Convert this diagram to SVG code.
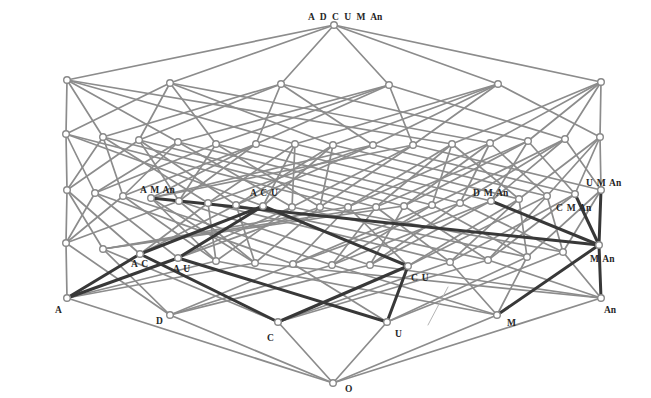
<svg xmlns="http://www.w3.org/2000/svg" width="651" height="398" viewBox="0 0 651 398">
<style>
.e line{stroke:#8c8c8c;stroke-width:1.7;stroke-linecap:round}
.t line{stroke:#383838;stroke-width:3;stroke-linecap:round}
circle{fill:#fff;stroke:#888;stroke-width:1.4}
text{font-family:"Liberation Serif","DejaVu Serif",serif;font-size:9.5px;font-weight:bold;fill:#262626;word-spacing:1.5px}
</style>
<rect width="651" height="398" fill="#fff"/>
<g id="connectors">
<g class="e">
<line x1="333" y1="383" x2="67" y2="298"/><line x1="333" y1="383" x2="170" y2="315"/><line x1="333" y1="383" x2="278" y2="322"/><line x1="333" y1="383" x2="387" y2="322"/><line x1="333" y1="383" x2="497" y2="315"/><line x1="333" y1="383" x2="601" y2="298"/>
<line x1="67" y1="298" x2="66" y2="243"/><line x1="170" y1="315" x2="66" y2="243"/>
<line x1="170" y1="315" x2="103" y2="249"/><line x1="278" y1="322" x2="103" y2="249"/>
<line x1="67" y1="298" x2="216" y2="261"/><line x1="497" y1="315" x2="216" y2="261"/>
<line x1="67" y1="298" x2="255" y2="263"/><line x1="601" y1="298" x2="255" y2="263"/>
<line x1="170" y1="315" x2="293" y2="264"/><line x1="387" y1="322" x2="293" y2="264"/>
<line x1="170" y1="315" x2="332" y2="265"/><line x1="497" y1="315" x2="332" y2="265"/>
<line x1="170" y1="315" x2="370" y2="265"/><line x1="601" y1="298" x2="370" y2="265"/>
<line x1="278" y1="322" x2="450" y2="262"/><line x1="497" y1="315" x2="450" y2="262"/>
<line x1="278" y1="322" x2="488" y2="260"/><line x1="601" y1="298" x2="488" y2="260"/>
<line x1="387" y1="322" x2="527" y2="257"/><line x1="497" y1="315" x2="527" y2="257"/>
<line x1="387" y1="322" x2="563" y2="252"/><line x1="601" y1="298" x2="563" y2="252"/>
<line x1="67" y1="190" x2="66" y2="243"/><line x1="67" y1="190" x2="140" y2="254"/><line x1="67" y1="190" x2="103" y2="249"/>
<line x1="95" y1="193" x2="66" y2="243"/><line x1="95" y1="193" x2="178" y2="258"/><line x1="95" y1="193" x2="293" y2="264"/>
<line x1="123" y1="196" x2="66" y2="243"/><line x1="123" y1="196" x2="216" y2="261"/><line x1="123" y1="196" x2="332" y2="265"/>
<line x1="151" y1="198" x2="216" y2="261"/><line x1="151" y1="198" x2="255" y2="263"/>
<line x1="179" y1="201" x2="66" y2="243"/><line x1="179" y1="201" x2="255" y2="263"/><line x1="179" y1="201" x2="370" y2="265"/>
<line x1="208" y1="203" x2="140" y2="254"/><line x1="208" y1="203" x2="216" y2="261"/><line x1="208" y1="203" x2="450" y2="262"/>
<line x1="236" y1="205" x2="140" y2="254"/><line x1="236" y1="205" x2="255" y2="263"/><line x1="236" y1="205" x2="488" y2="260"/>
<line x1="292" y1="207" x2="178" y2="258"/><line x1="292" y1="207" x2="216" y2="261"/><line x1="292" y1="207" x2="527" y2="257"/>
<line x1="320" y1="207" x2="178" y2="258"/><line x1="320" y1="207" x2="255" y2="263"/><line x1="320" y1="207" x2="563" y2="252"/>
<line x1="348" y1="207" x2="103" y2="249"/><line x1="348" y1="207" x2="293" y2="264"/><line x1="348" y1="207" x2="408" y2="266"/>
<line x1="376" y1="207" x2="103" y2="249"/><line x1="376" y1="207" x2="332" y2="265"/><line x1="376" y1="207" x2="450" y2="262"/>
<line x1="404" y1="206" x2="103" y2="249"/><line x1="404" y1="206" x2="370" y2="265"/><line x1="404" y1="206" x2="488" y2="260"/>
<line x1="432" y1="205" x2="293" y2="264"/><line x1="432" y1="205" x2="332" y2="265"/><line x1="432" y1="205" x2="527" y2="257"/>
<line x1="460" y1="203" x2="293" y2="264"/><line x1="460" y1="203" x2="370" y2="265"/><line x1="460" y1="203" x2="563" y2="252"/>
<line x1="491" y1="201" x2="332" y2="265"/><line x1="491" y1="201" x2="370" y2="265"/>
<line x1="519" y1="199" x2="408" y2="266"/><line x1="519" y1="199" x2="450" y2="262"/><line x1="519" y1="199" x2="527" y2="257"/>
<line x1="547" y1="196" x2="408" y2="266"/><line x1="547" y1="196" x2="488" y2="260"/><line x1="547" y1="196" x2="563" y2="252"/>
<line x1="575" y1="194" x2="450" y2="262"/><line x1="575" y1="194" x2="488" y2="260"/>
<line x1="601" y1="190" x2="527" y2="257"/><line x1="601" y1="190" x2="563" y2="252"/>
<line x1="66" y1="134" x2="67" y2="190"/><line x1="66" y1="134" x2="95" y2="193"/><line x1="66" y1="134" x2="263" y2="206"/><line x1="66" y1="134" x2="348" y2="207"/>
<line x1="103" y1="137" x2="67" y2="190"/><line x1="103" y1="137" x2="123" y2="196"/><line x1="103" y1="137" x2="208" y2="203"/><line x1="103" y1="137" x2="376" y2="207"/>
<line x1="139" y1="140" x2="67" y2="190"/><line x1="139" y1="140" x2="179" y2="201"/><line x1="139" y1="140" x2="236" y2="205"/><line x1="139" y1="140" x2="404" y2="206"/>
<line x1="178" y1="142" x2="95" y2="193"/><line x1="178" y1="142" x2="123" y2="196"/><line x1="178" y1="142" x2="292" y2="207"/><line x1="178" y1="142" x2="432" y2="205"/>
<line x1="216" y1="144" x2="95" y2="193"/><line x1="216" y1="144" x2="179" y2="201"/><line x1="216" y1="144" x2="320" y2="207"/><line x1="216" y1="144" x2="460" y2="203"/>
<line x1="256" y1="144" x2="123" y2="196"/><line x1="256" y1="144" x2="179" y2="201"/><line x1="256" y1="144" x2="151" y2="198"/><line x1="256" y1="144" x2="491" y2="201"/>
<line x1="295" y1="144" x2="263" y2="206"/><line x1="295" y1="144" x2="208" y2="203"/><line x1="295" y1="144" x2="292" y2="207"/><line x1="295" y1="144" x2="519" y2="199"/>
<line x1="333" y1="145" x2="263" y2="206"/><line x1="333" y1="145" x2="236" y2="205"/><line x1="333" y1="145" x2="320" y2="207"/><line x1="333" y1="145" x2="547" y2="196"/>
<line x1="373" y1="145" x2="208" y2="203"/><line x1="373" y1="145" x2="236" y2="205"/><line x1="373" y1="145" x2="151" y2="198"/><line x1="373" y1="145" x2="575" y2="194"/>
<line x1="413" y1="145" x2="292" y2="207"/><line x1="413" y1="145" x2="320" y2="207"/><line x1="413" y1="145" x2="151" y2="198"/><line x1="413" y1="145" x2="601" y2="190"/>
<line x1="452" y1="144" x2="348" y2="207"/><line x1="452" y1="144" x2="376" y2="207"/><line x1="452" y1="144" x2="432" y2="205"/><line x1="452" y1="144" x2="519" y2="199"/>
<line x1="490" y1="143" x2="348" y2="207"/><line x1="490" y1="143" x2="404" y2="206"/><line x1="490" y1="143" x2="460" y2="203"/><line x1="490" y1="143" x2="547" y2="196"/>
<line x1="528" y1="141" x2="376" y2="207"/><line x1="528" y1="141" x2="404" y2="206"/><line x1="528" y1="141" x2="491" y2="201"/><line x1="528" y1="141" x2="575" y2="194"/>
<line x1="565" y1="139" x2="432" y2="205"/><line x1="565" y1="139" x2="460" y2="203"/><line x1="565" y1="139" x2="491" y2="201"/><line x1="565" y1="139" x2="601" y2="190"/>
<line x1="600" y1="137" x2="519" y2="199"/><line x1="600" y1="137" x2="547" y2="196"/><line x1="600" y1="137" x2="575" y2="194"/><line x1="600" y1="137" x2="601" y2="190"/>
<line x1="67" y1="80" x2="66" y2="134"/><line x1="67" y1="80" x2="103" y2="137"/><line x1="67" y1="80" x2="178" y2="142"/><line x1="67" y1="80" x2="295" y2="144"/><line x1="67" y1="80" x2="452" y2="144"/>
<line x1="170" y1="83" x2="66" y2="134"/><line x1="170" y1="83" x2="139" y2="140"/><line x1="170" y1="83" x2="216" y2="144"/><line x1="170" y1="83" x2="333" y2="145"/><line x1="170" y1="83" x2="490" y2="143"/>
<line x1="281" y1="84" x2="103" y2="137"/><line x1="281" y1="84" x2="139" y2="140"/><line x1="281" y1="84" x2="256" y2="144"/><line x1="281" y1="84" x2="373" y2="145"/><line x1="281" y1="84" x2="528" y2="141"/>
<line x1="389" y1="85" x2="178" y2="142"/><line x1="389" y1="85" x2="216" y2="144"/><line x1="389" y1="85" x2="256" y2="144"/><line x1="389" y1="85" x2="413" y2="145"/><line x1="389" y1="85" x2="565" y2="139"/>
<line x1="498" y1="84" x2="295" y2="144"/><line x1="498" y1="84" x2="333" y2="145"/><line x1="498" y1="84" x2="373" y2="145"/><line x1="498" y1="84" x2="413" y2="145"/><line x1="498" y1="84" x2="600" y2="137"/>
<line x1="601" y1="82" x2="452" y2="144"/><line x1="601" y1="82" x2="490" y2="143"/><line x1="601" y1="82" x2="528" y2="141"/><line x1="601" y1="82" x2="565" y2="139"/><line x1="601" y1="82" x2="600" y2="137"/>
<line x1="334" y1="25" x2="67" y2="80"/><line x1="334" y1="25" x2="170" y2="83"/><line x1="334" y1="25" x2="281" y2="84"/><line x1="334" y1="25" x2="389" y2="85"/><line x1="334" y1="25" x2="498" y2="84"/><line x1="334" y1="25" x2="601" y2="82"/>
<line x1="428" y1="325" x2="448" y2="287" style="stroke:#b5b5b5;stroke-width:1"/>
</g>
<g class="t">
<line x1="67" y1="298" x2="140" y2="254"/><line x1="67" y1="298" x2="178" y2="258"/>
<line x1="278" y1="322" x2="140" y2="254"/><line x1="387" y1="322" x2="178" y2="258"/>
<line x1="278" y1="322" x2="408" y2="266"/><line x1="387" y1="322" x2="408" y2="266"/>
<line x1="140" y1="254" x2="263" y2="206"/><line x1="178" y1="258" x2="263" y2="206"/><line x1="408" y1="266" x2="263" y2="206"/>
<line x1="497" y1="315" x2="599" y2="245"/><line x1="601" y1="298" x2="599" y2="245"/>
<line x1="599" y1="245" x2="151" y2="198"/><line x1="599" y1="245" x2="491" y2="201"/><line x1="599" y1="245" x2="575" y2="194"/><line x1="599" y1="245" x2="601" y2="190"/>
</g>
</g>
<g id="O"><circle cx="333" cy="383" r="3.3"/><text x="345" y="392">O</text></g>
<g id="A"><circle cx="67" cy="298" r="3.3"/><text x="55" y="313">A</text></g>
<g id="D"><circle cx="170" cy="315" r="3.3"/><text x="156" y="324">D</text></g>
<g id="C"><circle cx="278" cy="322" r="3.3"/><text x="267" y="341">C</text></g>
<g id="U"><circle cx="387" cy="322" r="3.3"/><text x="395" y="337">U</text></g>
<g id="M"><circle cx="497" cy="315" r="3.3"/><text x="507" y="326">M</text></g>
<g id="An"><circle cx="601" cy="298" r="3.3"/><text x="604" y="313">An</text></g>
<g id="AD"><circle cx="66" cy="243" r="3.3"/></g>
<g id="DC"><circle cx="103" cy="249" r="3.3"/></g>
<g id="AC"><circle cx="140" cy="254" r="3.3"/><text x="131" y="267">A C</text></g>
<g id="AU"><circle cx="178" cy="258" r="3.3"/><text x="173" y="272">A U</text></g>
<g id="AM"><circle cx="216" cy="261" r="3.3"/></g>
<g id="AAn"><circle cx="255" cy="263" r="3.3"/></g>
<g id="DU"><circle cx="293" cy="264" r="3.3"/></g>
<g id="DM"><circle cx="332" cy="265" r="3.3"/></g>
<g id="DAn"><circle cx="370" cy="265" r="3.3"/></g>
<g id="CU"><circle cx="408" cy="266" r="3.3"/><text x="411" y="281">C U</text></g>
<g id="CM"><circle cx="450" cy="262" r="3.3"/></g>
<g id="CAn"><circle cx="488" cy="260" r="3.3"/></g>
<g id="UM"><circle cx="527" cy="257" r="3.3"/></g>
<g id="UAn"><circle cx="563" cy="252" r="3.3"/></g>
<g id="MAn"><circle cx="599" cy="245" r="3.3"/><text x="590" y="262">M An</text></g>
<g id="ADC"><circle cx="67" cy="190" r="3.3"/></g>
<g id="ADU"><circle cx="95" cy="193" r="3.3"/></g>
<g id="ADM"><circle cx="123" cy="196" r="3.3"/></g>
<g id="AMAn"><circle cx="151" cy="198" r="3.3"/><text x="140" y="193">A M An</text></g>
<g id="ADAn"><circle cx="179" cy="201" r="3.3"/></g>
<g id="ACM"><circle cx="208" cy="203" r="3.3"/></g>
<g id="ACAn"><circle cx="236" cy="205" r="3.3"/></g>
<g id="ACU"><circle cx="263" cy="206" r="3.3"/><text x="250" y="196">A C U</text></g>
<g id="AUM"><circle cx="292" cy="207" r="3.3"/></g>
<g id="AUAn"><circle cx="320" cy="207" r="3.3"/></g>
<g id="DCU"><circle cx="348" cy="207" r="3.3"/></g>
<g id="DCM"><circle cx="376" cy="207" r="3.3"/></g>
<g id="DCAn"><circle cx="404" cy="206" r="3.3"/></g>
<g id="DUM"><circle cx="432" cy="205" r="3.3"/></g>
<g id="DUAn"><circle cx="460" cy="203" r="3.3"/></g>
<g id="DMAn"><circle cx="491" cy="201" r="3.3"/><text x="473" y="196">D M An</text></g>
<g id="CUM"><circle cx="519" cy="199" r="3.3"/></g>
<g id="CUAn"><circle cx="547" cy="196" r="3.3"/></g>
<g id="CMAn"><circle cx="575" cy="194" r="3.3"/><text x="556" y="211">C  M An</text></g>
<g id="UMAn"><circle cx="601" cy="190" r="3.3"/><text x="586" y="186">U M An</text></g>
<g id="ADCU"><circle cx="66" cy="134" r="3.3"/></g>
<g id="ADCM"><circle cx="103" cy="137" r="3.3"/></g>
<g id="ADCAn"><circle cx="139" cy="140" r="3.3"/></g>
<g id="ADUM"><circle cx="178" cy="142" r="3.3"/></g>
<g id="ADUAn"><circle cx="216" cy="144" r="3.3"/></g>
<g id="ADMAn"><circle cx="256" cy="144" r="3.3"/></g>
<g id="ACUM"><circle cx="295" cy="144" r="3.3"/></g>
<g id="ACUAn"><circle cx="333" cy="145" r="3.3"/></g>
<g id="ACMAn"><circle cx="373" cy="145" r="3.3"/></g>
<g id="AUMAn"><circle cx="413" cy="145" r="3.3"/></g>
<g id="DCUM"><circle cx="452" cy="144" r="3.3"/></g>
<g id="DCUAn"><circle cx="490" cy="143" r="3.3"/></g>
<g id="DCMAn"><circle cx="528" cy="141" r="3.3"/></g>
<g id="DUMAn"><circle cx="565" cy="139" r="3.3"/></g>
<g id="CUMAn"><circle cx="600" cy="137" r="3.3"/></g>
<g id="ADCUM"><circle cx="67" cy="80" r="3.3"/></g>
<g id="ADCUAn"><circle cx="170" cy="83" r="3.3"/></g>
<g id="ADCMAn"><circle cx="281" cy="84" r="3.3"/></g>
<g id="ADUMAn"><circle cx="389" cy="85" r="3.3"/></g>
<g id="ACUMAn"><circle cx="498" cy="84" r="3.3"/></g>
<g id="DCUMAn"><circle cx="601" cy="82" r="3.3"/></g>
<g id="ADCUMAn"><circle cx="334" cy="25" r="3.3"/><text x="308" y="20" style="word-spacing:3px">A D C U M An</text></g>
</svg>
